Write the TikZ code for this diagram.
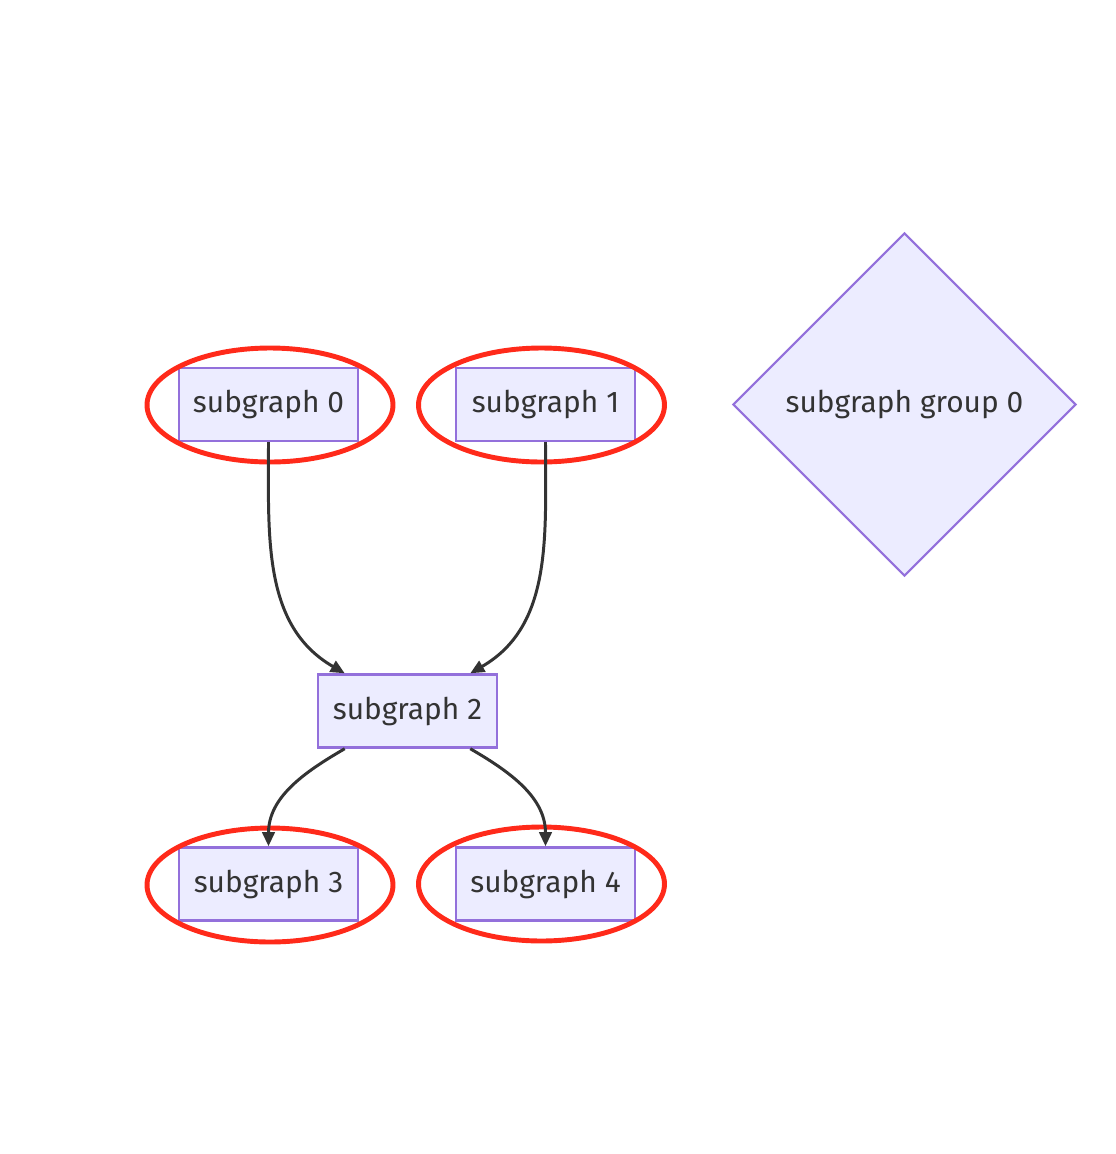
\documentclass[tikz,border=0pt]{standalone}
\usepackage{fontspec}
\setmainfont{Fira Sans}
\usepackage{tikz}
\usetikzlibrary{calc, arrows.meta, shapes.geometric}

\definecolor{boxfill}{HTML}{ECECFF}
\definecolor{boxline}{HTML}{9370DB}
\definecolor{inkgray}{HTML}{333333}
\definecolor{ringred}{HTML}{FF2A1A}

\begin{document}
\begin{tikzpicture}[x=0.02cm, y=-0.02cm,
        sgbox/.style={rectangle, draw=boxline, fill=boxfill, line width=1.4pt, minimum width=3.58cm, minimum height=1.46cm, text=inkgray, font=\fontsize{17}{20}\selectfont},
        sgdiamond/.style={diamond, aspect=1, draw=boxline, fill=boxfill, line width=1.2pt, minimum width=6.86cm, minimum height=6.86cm, inner sep=0pt, text=inkgray, font=\fontsize{17}{20}\selectfont},
        ring/.style={draw=ringred, line width=2.8pt},
        edge/.style={draw=inkgray, line width=1.7pt, -{Triangle[length=8pt, width=7pt]}}]

        \useasboundingbox (0,0) rectangle (1116,1154);

        %% Subgraphs
        \node (s0) [sgbox] at (268.5,404.5) {subgraph 0};
        \node (s1) [sgbox] at (545.5,404.5) {subgraph 1};
        \node (s2) [sgbox] at (407.5,711) {subgraph 2};
        \node (s3) [sgbox] at (268.5,884) {subgraph 3};
        \node (s4) [sgbox] at (545.5,884) {subgraph 4};

        %% Group
        \node (g0) [sgdiamond] at (904.5,404.5) {subgraph group 0};

        %% Highlights
        \draw [ring] (270,405) ellipse [x radius=2.46cm, y radius=1.14cm];
        \draw [ring] (541.5,405) ellipse [x radius=2.46cm, y radius=1.14cm];
        \draw [ring] (270,885) ellipse [x radius=2.46cm, y radius=1.14cm];
        \draw [ring] (541.5,884) ellipse [x radius=2.46cm, y radius=1.14cm];

        %% Arrows
        \draw [edge] (s0.south) to [out=-90, in=150] (s2.149);
        \draw [edge] (s1.south) to [out=-90, in=30] (s2.31);
        \draw [edge] (s2.211) to [out=210, in=90] (s3.north);
        \draw [edge] (s2.-31) to [out=-30, in=90] (s4.north);

\end{tikzpicture}
\end{document}
